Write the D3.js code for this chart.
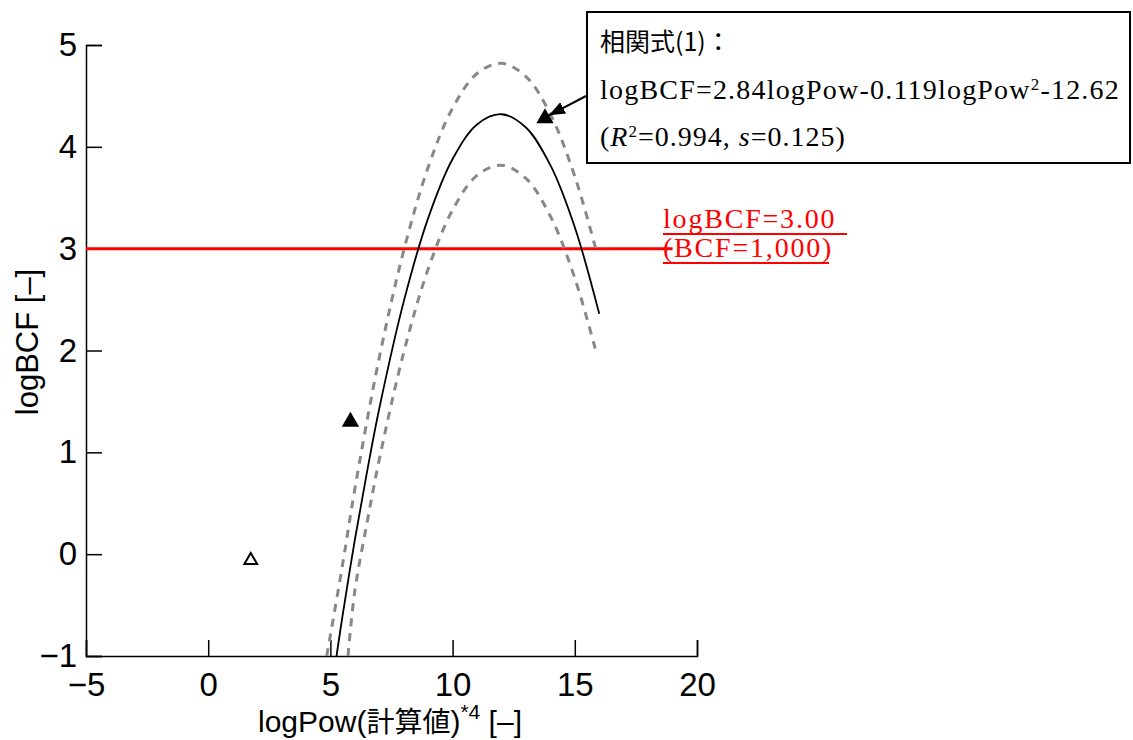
<!DOCTYPE html>
<html>
<head>
<meta charset="utf-8">
<script src="https://cdn.jsdelivr.net/npm/d3@7"></script>
<style>
body { margin: 0; background: #fff; }
</style>
</head>
<body>
<script>
var w = 1133;
var h = 740;

// regression curve (logPow, logBCF)
var fitLine = [[5.25,-1.0],[5.5,-0.60],[6,0.14],[6.5,0.81],[7,1.43],[8,2.48],[9,3.30],[10,3.88],[11,4.22],[12,4.32],[13,4.19],[14,3.82],[15,3.21],[16,2.36]];
// upper / lower band (dashed)
var upperLine = [[4.85,-1.0],[5.5,-0.10],[6,0.64],[7,1.93],[8,2.98],[9,3.80],[10,4.38],[11,4.72],[12,4.82],[13,4.69],[14,4.32],[15,3.71],[15.9,2.96]];
var lowerLine = [[5.72,-1.0],[6,-0.36],[6.5,0.31],[7,0.93],[8,1.98],[9,2.80],[10,3.38],[11,3.72],[12,3.82],[13,3.69],[14,3.32],[15,2.71],[15.9,1.96]];
// measured points
var filledPts = [[5.82,1.30],[13.78,4.28]];
var openPts = [[1.74,-0.06]];
// threshold
var thresholdY = 3.0;
var thresholdX = [-5, 19];
var xTicks = [-5,0,5,10,15,20];
var yTicks = [-1,0,1,2,3,4,5];

var xScale = d3.scaleLinear().domain([-5,20]).range([86,697]);
var yScale = d3.scaleLinear().domain([-1,5]).range([656,45]);

var svg = d3.select("body").append("svg")
    .attr("width", w)
    .attr("height", h);

var sans = "'Liberation Sans', Arial, 'Noto Sans CJK JP', sans-serif";
var serif = "'Liberation Serif', 'Times New Roman', 'Noto Sans CJK JP', serif";

// axes (ticks point inward)
var fmt = function(d){ return d < 0 ? "\u2212" + Math.abs(d) : d; };
var xAxis = d3.axisBottom(xScale).tickValues(xTicks).tickSize(-16).tickPadding(21).tickFormat(fmt);
var yAxis = d3.axisLeft(yScale).tickValues(yTicks).tickSize(-16).tickPadding(24).tickFormat(fmt);

var gx = svg.append("g").attr("transform","translate(0,656)").call(xAxis);
var gy = svg.append("g").attr("transform","translate(86,0)").call(yAxis);
[gx, gy].forEach(function(g){
    g.select(".domain").attr("stroke","#000").attr("stroke-width",1.5);
    g.selectAll(".tick line").attr("stroke","#000").attr("stroke-width",1.5);
    g.selectAll(".tick text").attr("font-family", sans).attr("font-size","33px").attr("fill","#000");
});
gx.selectAll(".tick text").attr("dy","0.58em");
gy.selectAll(".tick text").attr("dx","15px");

// axis titles
var xt = svg.append("text")
    .attr("x", 390).attr("y", 732)
    .attr("text-anchor","middle")
    .attr("font-family", sans)
    .attr("font-size","30px");
xt.append("tspan").text("logPow(");
xt.append("tspan").text("計算値").attr("font-family","'Noto Sans CJK JP', sans-serif").attr("font-size","28px");
xt.append("tspan").text(")");
xt.append("tspan").text("*4").attr("font-size","21px").attr("dy","-13");
xt.append("tspan").text(" [\u2013]").attr("dy","13");

svg.append("text")
    .attr("transform","translate(38,342) rotate(-90)")
    .attr("text-anchor","middle")
    .attr("font-family", sans)
    .attr("font-size","31px")
    .text("logBCF [\u2013]");

// threshold line
svg.append("line")
    .attr("x1", xScale(thresholdX[0])).attr("x2", xScale(thresholdX[1]))
    .attr("y1", yScale(thresholdY)).attr("y2", yScale(thresholdY))
    .attr("stroke","#ff0000").attr("stroke-width",3);

var line = d3.line()
    .x(function(d){ return xScale(d[0]); })
    .y(function(d){ return yScale(d[1]); })
    .curve(d3.curveCatmullRom);

svg.append("path").datum(upperLine).attr("d", line)
    .attr("fill","none").attr("stroke","#888").attr("stroke-width",3)
    .attr("stroke-dasharray","8,7");
svg.append("path").datum(lowerLine).attr("d", line)
    .attr("fill","none").attr("stroke","#888").attr("stroke-width",3)
    .attr("stroke-dasharray","8,7");
svg.append("path").datum(fitLine).attr("d", line)
    .attr("fill","none").attr("stroke","#000").attr("stroke-width",1.8);

// markers
svg.selectAll("path.filled").data(filledPts).enter().append("path")
    .attr("class","filled")
    .attr("d", d3.symbol().type(d3.symbolTriangle).size(130)())
    .attr("transform", function(d){ return "translate(" + xScale(d[0]) + "," + yScale(d[1]) + ")"; })
    .attr("fill","#000");
svg.selectAll("path.open").data(openPts).enter().append("path")
    .attr("class","open")
    .attr("d", d3.symbol().type(d3.symbolTriangle).size(70)())
    .attr("transform", function(d){ return "translate(" + xScale(d[0]) + "," + yScale(d[1]) + ")"; })
    .attr("fill","#fff").attr("stroke","#000").attr("stroke-width",2);

// red label
var red = svg.append("g").attr("font-family", serif).attr("font-size","28px")
    .style("fill","#ff0000").attr("letter-spacing","1.8px");
red.append("text").attr("x",663).attr("y",228).style("fill","#ff0000").text("logBCF=3.00");
red.append("text").attr("x",663).attr("y",257).style("fill","#ff0000").text("(BCF=1,000)");
red.append("line").attr("x1",663).attr("x2",847).attr("y1",234).attr("y2",234).attr("stroke","#ff0000").attr("stroke-width",2);
red.append("line").attr("x1",663).attr("x2",829).attr("y1",263).attr("y2",263).attr("stroke","#ff0000").attr("stroke-width",2);

// annotation box and arrow
svg.append("defs").append("marker")
    .attr("id","ah").attr("viewBox","0 0 10 10").attr("refX",10).attr("refY",5)
    .attr("markerWidth",8).attr("markerHeight",8).attr("orient","auto")
    .append("path").attr("d","M0,1 L10,5 L0,9 Z").attr("fill","#000");
svg.append("line")
    .attr("x1",586).attr("y1",96)
    .attr("x2",xScale(filledPts[1][0]) + 4).attr("y2",yScale(filledPts[1][1]) - 3)
    .attr("stroke","#000").attr("stroke-width",2)
    .attr("marker-end","url(#ah)");

svg.append("rect")
    .attr("x",587).attr("y",12).attr("width",543).attr("height",151)
    .attr("fill","#fff").attr("stroke","#000").attr("stroke-width",2);

var box = svg.append("g").attr("font-family", serif).attr("font-size","28px");
box.append("text").attr("x",600).attr("y",51)
    .attr("font-family","'Noto Sans CJK JP', sans-serif").attr("font-size","25px")
    .text("相関式(1)：");
var l2 = box.append("text").attr("x",600).attr("y",99).attr("letter-spacing","1.2px");
l2.append("tspan").text("logBCF=2.84logPow-0.119logPow");
l2.append("tspan").text("2").attr("font-size","17px").attr("dy","-9");
l2.append("tspan").text("-12.62").attr("dy","9");
var l3 = box.append("text").attr("x",600).attr("y",146).attr("letter-spacing","1px");
l3.append("tspan").text("(");
l3.append("tspan").text("R").attr("font-style","italic");
l3.append("tspan").text("2").attr("font-size","17px").attr("dy","-9");
l3.append("tspan").text("=0.994, ").attr("dy","9");
l3.append("tspan").text("s").attr("font-style","italic");
l3.append("tspan").text("=0.125)");
</script>
</body>
</html>
